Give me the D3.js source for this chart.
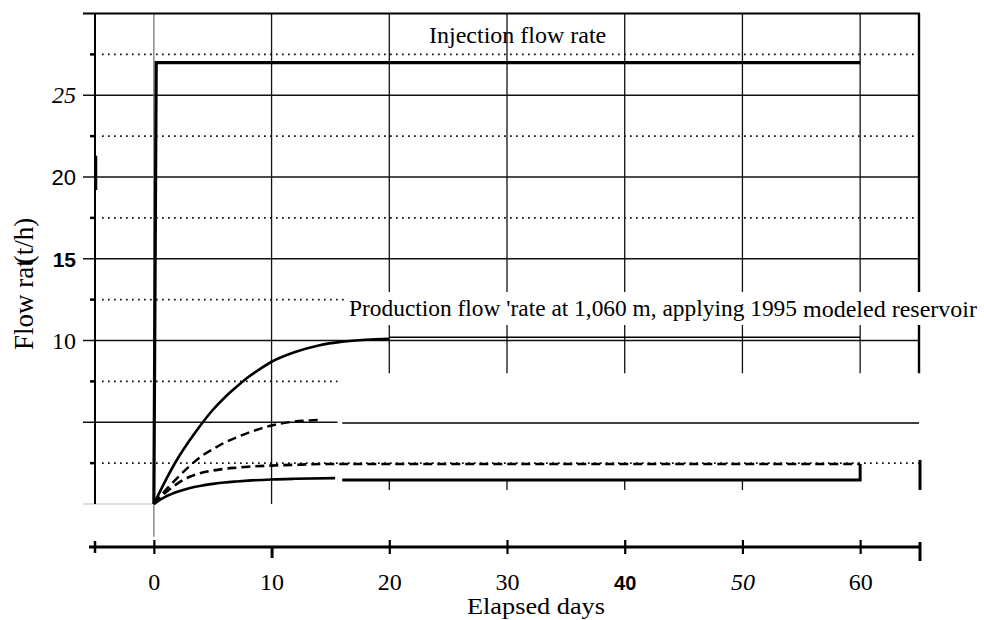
<!DOCTYPE html>
<html>
<head>
<meta charset="utf-8">
<script src="https://cdn.jsdelivr.net/npm/d3@7"></script>
<style>
  html, body { margin: 0; padding: 0; background: #fff; }
  svg { display: block; }
  text { fill: #000; }
</style>
</head>
<body>
<svg id="chart" width="984" height="620"></svg>
<script>
// ---------------- data ----------------
const xDomain = [-5, 65];
const yDomain = [0, 30];
const xTickValues = [0, 10, 20, 30, 40, 50, 60];
const xTickLabels = ["0", "10", "20", "30", "40", "50", "60"];
const yTickValues = [10, 15, 20, 25];
const yTickLabels = ["10", "15", "20", "25"];
const majorGridY = [5, 10, 15, 20, 25];
const majorGridEnd = [15.6, 65, 65, 65, 65];
const minorGridY = [2.5, 7.5, 12.5, 17.5, 22.5, 27.5];
const minorGridEnd = [65, 15.6, 16.3, 65, 65, 65];
const verticalGridX = [0, 10, 20, 30, 40, 50, 60];
const verticalGridBottom = [-2, 0, 8, 8, 8, 8, 8];

// injection flow rate (t/h)
const injection = [[0, 0], [0.2, 27], [60, 27]];
// production curves (t/h)
const prodHighRise = [[0, 0], [1, 1.45], [2, 2.75], [3, 3.85], [4, 4.85], [5, 5.75], [6, 6.5], [7, 7.15], [8, 7.75], [9, 8.25], [10, 8.7], [12, 9.3], [14, 9.7], [16, 9.93], [18, 10.05], [20, 10.1]];
const prodHighFlat = [[20, 10.2], [60, 10.2]];
const prodMidRise = [[0, 0], [1, 0.85], [2, 1.6], [3, 2.3], [4, 2.9], [5, 3.35], [6, 3.75], [7, 4.07], [8, 4.35], [9, 4.6], [10, 4.8], [11, 4.95], [12, 5.05], [13, 5.1], [14.3, 5.15]];
const prodMidFlat = [[16, 4.95], [65, 4.95]];
const prodLowDashed = [[0, 0], [1, 0.7], [2, 1.25], [3, 1.65], [4, 1.9], [5, 2.05], [6, 2.15], [7, 2.22], [8, 2.28], [10, 2.35], [12, 2.4], [15, 2.45], [60, 2.45]];
const prodLowRise = [[0, 0], [1, 0.45], [2, 0.75], [3, 0.97], [4, 1.12], [5, 1.23], [6, 1.32], [7, 1.38], [8, 1.43], [10, 1.5], [12, 1.54], [15.4, 1.58]];
const prodLowFlat = [[16, 1.47], [60, 1.47], [60, 2.45]];

const yLabelMain = "Flow rat";
const yLabelUnit = "(t/h)";
const xLabel = "Elapsed days";
const injectionLabel = "Injection flow rate";
const productionLabelA = "Production flow 'rate at 1,060 m, applying 1995";
const productionLabelB = "modeled reservoir";

// ---------------- drawing ----------------
const svg = d3.select("#chart");
const x = d3.scaleLinear().domain(xDomain).range([95, 919]);
const y = d3.scaleLinear().domain(yDomain).range([504, 13.5]);
const serif = "'Liberation Serif','Times New Roman',serif";
const sans = "'Liberation Sans',Arial,sans-serif";
const line = d3.line().x(d => x(d[0])).y(d => y(d[1]));
const curve = d3.line().x(d => x(d[0])).y(d => y(d[1])).curve(d3.curveMonotoneX);

const g = svg.append("g");

// dotted minor gridlines
minorGridY.forEach((v, i) => {
  g.append("line")
    .attr("x1", x(-4.4)).attr("x2", x(minorGridEnd[i]))
    .attr("y1", y(v)).attr("y2", y(v))
    .attr("stroke", "#000").attr("stroke-width", 1.6)
    .attr("stroke-dasharray", "1.6,4.4");
  g.append("line")
    .attr("x1", x(-5) - 5).attr("x2", x(-5))
    .attr("y1", y(v)).attr("y2", y(v))
    .attr("stroke", "#000").attr("stroke-width", 2.5);
});

// solid major gridlines
majorGridY.forEach((v, i) => {
  g.append("line")
    .attr("x1", x(-5) - 12).attr("x2", x(majorGridEnd[i]))
    .attr("y1", y(v)).attr("y2", y(v))
    .attr("stroke", "#111").attr("stroke-width", 1.3);
});
// baseline at 0 (faint)
g.append("line")
  .attr("x1", x(-5) - 12).attr("x2", x(0))
  .attr("y1", y(0)).attr("y2", y(0))
  .attr("stroke", "#bbb").attr("stroke-width", 1);

// vertical gridlines
verticalGridX.forEach((v, i) => {
  g.append("line")
    .attr("x1", x(v)).attr("x2", x(v))
    .attr("y1", y(30)).attr("y2", y(verticalGridBottom[i]))
    .attr("stroke", v === 0 ? "#777" : "#111").attr("stroke-width", 1.3);
});
// short lower stubs of the gridlines
[20, 30, 40, 50].forEach(v => {
  g.append("line")
    .attr("x1", x(v)).attr("x2", x(v))
    .attr("y1", y(1.47)).attr("y2", y(0.85))
    .attr("stroke", "#111").attr("stroke-width", 1.3);
});

// frame: top, left, right
g.append("line").attr("x1", x(-5) - 12).attr("x2", x(65) + 1)
  .attr("y1", y(30)).attr("y2", y(30)).attr("stroke", "#000").attr("stroke-width", 2.2);
g.append("line").attr("x1", x(-5)).attr("x2", x(-5))
  .attr("y1", y(30)).attr("y2", y(0)).attr("stroke", "#000").attr("stroke-width", 2);
g.append("line").attr("x1", x(-5) + 1).attr("x2", x(-5) + 1)
  .attr("y1", y(19.2)).attr("y2", y(21.3)).attr("stroke", "#000").attr("stroke-width", 2.5);
g.append("line").attr("x1", x(65)).attr("x2", x(65))
  .attr("y1", y(30)).attr("y2", y(8)).attr("stroke", "#000").attr("stroke-width", 2.4);
g.append("line").attr("x1", x(65) + 1).attr("x2", x(65) + 1)
  .attr("y1", y(2.7)).attr("y2", y(0.86)).attr("stroke", "#000").attr("stroke-width", 3);

// series
g.append("path").datum(injection).attr("d", line)
  .attr("fill", "none").attr("stroke", "#000").attr("stroke-width", 3.2);

g.append("path").datum(prodHighRise).attr("d", curve)
  .attr("fill", "none").attr("stroke", "#000").attr("stroke-width", 2.6);
g.append("path").datum(prodHighFlat).attr("d", line)
  .attr("fill", "none").attr("stroke", "#000").attr("stroke-width", 1.3);

g.append("path").datum(prodMidRise).attr("d", curve)
  .attr("fill", "none").attr("stroke", "#000").attr("stroke-width", 2.4)
  .attr("stroke-dasharray", "9,5");
g.append("path").datum(prodMidFlat).attr("d", line)
  .attr("fill", "none").attr("stroke", "#000").attr("stroke-width", 1.5);

g.append("path").datum(prodLowDashed).attr("d", curve)
  .attr("fill", "none").attr("stroke", "#000").attr("stroke-width", 2.6)
  .attr("stroke-dasharray", "9,5");

g.append("path").datum(prodLowRise).attr("d", curve)
  .attr("fill", "none").attr("stroke", "#000").attr("stroke-width", 2.6);
g.append("path").datum(prodLowFlat).attr("d", line)
  .attr("fill", "none").attr("stroke", "#000").attr("stroke-width", 3);

// labels inside the plot
g.append("rect").attr("x", 345).attr("y", 292).attr("width", 639).attr("height", 33)
  .attr("fill", "#fff");
g.append("text").attr("x", 349).attr("y", 316)
  .attr("font-family", serif).attr("font-size", 23)
  .attr("textLength", 448).attr("lengthAdjust", "spacingAndGlyphs")
  .text(productionLabelA);
g.append("text").attr("x", 803).attr("y", 317)
  .attr("font-family", serif).attr("font-size", 24)
  .attr("textLength", 174).attr("lengthAdjust", "spacingAndGlyphs")
  .text(productionLabelB);
g.append("text").attr("x", 429).attr("y", 43)
  .attr("font-family", serif).attr("font-size", 24)
  .text(injectionLabel);

// y tick labels (mixed fonts as in the scan)
const yTickStyle = {
  10: { family: serif, size: 24, weight: "normal", style: "normal" },
  15: { family: sans, size: 21, weight: "bold", style: "normal" },
  20: { family: sans, size: 22, weight: "normal", style: "normal" },
  25: { family: serif, size: 24, weight: "normal", style: "italic" }
};
yTickValues.forEach((v, i) => {
  const s = yTickStyle[v];
  g.append("text").attr("x", 76).attr("y", y(v) + 8)
    .attr("text-anchor", "end")
    .attr("font-family", s.family).attr("font-size", s.size)
    .attr("font-weight", s.weight).attr("font-style", s.style)
    .text(yTickLabels[i]);
});

// x axis (separate line below plot)
const axisY = 547;
const xAxis = d3.axisBottom(x).tickValues(xTickValues).tickSize(0).tickFormat("");
const ax = svg.append("g").attr("transform", `translate(0,${axisY})`).call(xAxis);
ax.select(".domain").remove();
ax.append("line").attr("x1", x(-5) - 6).attr("x2", x(65))
  .attr("y1", 0).attr("y2", 0).attr("stroke", "#000").attr("stroke-width", 3);
ax.selectAll(".tick").append("line")
  .attr("x1", 0).attr("x2", 0)
  .attr("y1", d => d === 10 ? 1 : -7).attr("y2", d => d === 10 ? 11 : 7)
  .attr("stroke", "#000").attr("stroke-width", d => d === 10 ? 3 : 2.2);
ax.append("line").attr("x1", x(-5)).attr("x2", x(-5)).attr("y1", -6).attr("y2", 6)
  .attr("stroke", "#000").attr("stroke-width", 2.5);
ax.append("line").attr("x1", x(65) + 1).attr("x2", x(65) + 1).attr("y1", -5).attr("y2", 14)
  .attr("stroke", "#000").attr("stroke-width", 3);

const xTickStyle = {
  40: { family: sans, size: 20, weight: "bold", style: "normal" },
  50: { family: serif, size: 24, weight: "normal", style: "italic" }
};
ax.selectAll(".tick").append("text")
  .attr("y", 590 - axisY).attr("text-anchor", "middle")
  .attr("font-family", d => (xTickStyle[d] || { family: serif }).family)
  .attr("font-size", d => (xTickStyle[d] || { size: 24 }).size)
  .attr("font-weight", d => (xTickStyle[d] || { weight: "normal" }).weight)
  .attr("font-style", d => (xTickStyle[d] || { style: "normal" }).style)
  .text((d, i) => xTickLabels[i]);

svg.append("text").attr("x", 467).attr("y", 614)
  .attr("font-family", serif).attr("font-size", 23)
  .attr("textLength", 138).attr("lengthAdjust", "spacingAndGlyphs")
  .text(xLabel);

// y axis title (overlapping pieces, as in the scan)
const yl = svg.append("g").attr("transform", "translate(33,350) rotate(-90)");
const yMain = yl.append("text").attr("x", 0).attr("y", 0)
  .attr("font-family", serif).attr("font-size", 27)
  .text(yLabelMain);
const mainLen = yMain.node().getComputedTextLength();
yl.append("text").attr("x", mainLen - 5).attr("y", 0)
  .attr("font-family", serif).attr("font-size", 27)
  .text(yLabelUnit);
</script>
</body>
</html>
